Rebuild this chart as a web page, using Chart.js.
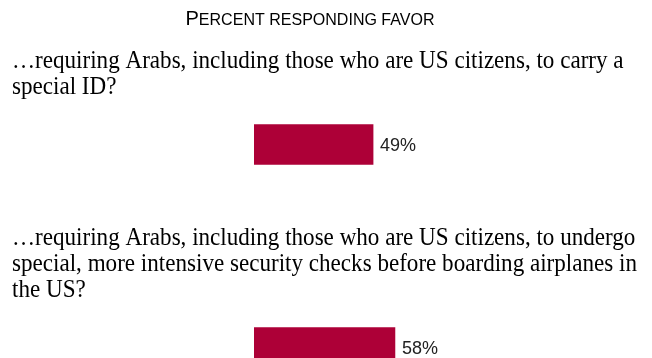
<!DOCTYPE html>
<html>
<head>
<meta charset="utf-8">
<script src="https://cdn.jsdelivr.net/npm/chart.js@4/dist/chart.umd.min.js"></script>
<style>
  html, body { margin: 0; padding: 0; background: #fff; overflow: hidden; }
  #wrap { width: 652px; height: 358px; overflow: hidden; }
</style>
</head>
<body>
<div id="wrap"><canvas id="favorChart" width="652" height="460"></canvas></div>
<script>
// =======================
// DATOS
// =======================
const chartTitle = 'Percent responding favor';

// cada pregunta ya partida en sus líneas
const questions = [
    ['…requiring Arabs, including those who are US citizens, to carry a',
     'special ID?'],
    ['…requiring Arabs, including those who are US citizens, to undergo',
     'special, more intensive security checks before boarding airplanes in',
     'the US?']
];

const favor = [49, 58];

const barColor = '#ad0037';

// =======================
// TEXTOS (título, preguntas, porcentajes)
// =======================
const textosPlugin = {
    id: 'textos',
    afterDatasetsDraw(chart) {
        const ctx = chart.ctx;
        const meta = chart.getDatasetMeta(0);
        ctx.save();
        ctx.fillStyle = '#000';
        ctx.textBaseline = 'alphabetic';

        // título en versalitas: sólo la primera letra grande
        const big = '20px "Liberation Sans"';
        const small = '16px "Liberation Sans"';
        const trozos = [
            { t: chartTitle[0].toUpperCase(), f: big },
            { t: chartTitle.slice(1).toUpperCase(), f: small }
        ];
        let total = 0;
        trozos.forEach(p => { ctx.font = p.f; p.w = ctx.measureText(p.t).width; total += p.w; });
        const tScale = 249 / total;
        ctx.save();
        ctx.translate(310 - 249 / 2, 25);
        ctx.scale(tScale, 1);
        let x = 0;
        trozos.forEach(p => { ctx.font = p.f; ctx.fillText(p.t, x, 0); x += p.w; });
        ctx.restore();

        // preguntas encima de cada barra, letra algo estrecha
        ctx.font = '25px "Liberation Serif"';
        const widest = Math.max(...questions.flat().map(l => ctx.measureText(l).width));
        const squeeze = 625 / widest;
        meta.data.forEach((bar, i) => {
            const lines = questions[i];
            lines.forEach((line, j) => {
                const y = bar.y - 51 - (lines.length - 1 - j) * 26;
                ctx.save();
                ctx.translate(12, y);
                ctx.scale(squeeze, 1);
                ctx.fillText(line, 0, 0);
                ctx.restore();
            });
        });

        // porcentaje al final de cada barra
        ctx.font = '18px "Liberation Sans"';
        ctx.fillStyle = '#222';
        meta.data.forEach((bar, i) => {
            ctx.fillText(favor[i] + '%', bar.x + 7, bar.y + 6.5);
        });
        ctx.restore();
    }
};

// =======================
// GRÁFICO
// =======================
const ctx = document.getElementById('favorChart').getContext('2d');

new Chart(ctx, {
    type: 'bar',
    data: {
        labels: questions.map(q => q.join(' ')),
        datasets: [{
            label: 'Favor',
            data: favor,
            backgroundColor: barColor,
            borderWidth: 0,
            barThickness: 40
        }]
    },
    options: {
        indexAxis: 'y',
        responsive: false,
        animation: false,
        devicePixelRatio: 1,
        layout: {
            padding: { left: 254, right: 155, top: 43, bottom: 11 }
        },
        scales: {
            x: { display: false, min: 0, max: 100 },
            y: { display: false, offset: true }
        },
        plugins: {
            legend: { display: false },
            tooltip: { enabled: false }
        }
    },
    plugins: [textosPlugin]
});
</script>
</body>
</html>
